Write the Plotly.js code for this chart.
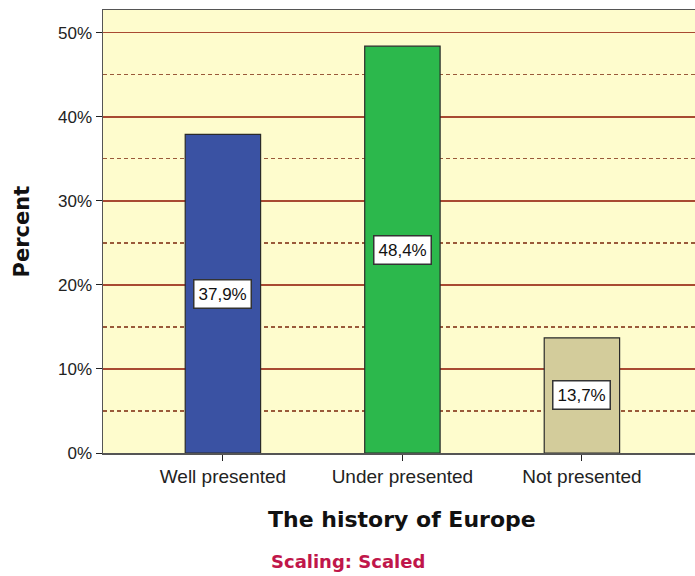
<!DOCTYPE html>
<html><head><meta charset="utf-8">
<script src="https://cdn.plot.ly/plotly-3.0.1.min.js"></script>
<style>html,body{margin:0;padding:0;background:#fff}</style>
</head><body><div id="chart" style="width:695px;height:576px"></div>
<script>
const categories = ["Well presented", "Under presented", "Not presented"];
const percents = [37.9, 48.4, 13.7];
const labels = ["37,9%", "48,4%", "13,7%"];
const barColors = ["#3a52a3", "#2cb84c", "#d3cc9b"];
const yTicks = [0, 10, 20, 30, 40, 50];

const trace = {
  type: "bar",
  x: categories.map((c, i) => i),
  y: percents,
  width: 0.42,
  marker: {color: barColors, line: {color: "#2a2a2a", width: 1.2}},
  hoverinfo: "skip"
};

const annotations = percents.map((v, i) => ({
  x: i, y: v / 2, xref: "x", yref: "y",
  text: labels[i], showarrow: false,
  bgcolor: "#ffffff", bordercolor: "#333333", borderwidth: 1.5, borderpad: 4,
  font: {family: "Liberation Sans, Arial, sans-serif", size: 17, color: "#111"}
}));
annotations.push({
  xref: "paper", yref: "paper", x: 0.505, y: -0.151, xanchor: "center", yanchor: "middle",
  text: "<b>The history of Europe</b>", showarrow: false,
  font: {family: "DejaVu Sans, sans-serif", size: 22, color: "#111"}
});
annotations.push({
  xref: "paper", yref: "paper", x: 0.414, y: -0.246, xanchor: "center", yanchor: "middle",
  text: "<b>Scaling: Scaled</b>", showarrow: false,
  font: {family: "DejaVu Sans, sans-serif", size: 18, color: "#c0164a"}
});
annotations.push({
  xref: "paper", yref: "paper", x: -0.137, y: 0.5, xanchor: "center", yanchor: "middle",
  text: "<b>Percent</b>", showarrow: false, textangle: -90,
  font: {family: "DejaVu Sans, sans-serif", size: 21, color: "#111"}
});

const layout = {
  width: 695, height: 576,
  margin: {l: 103, r: 0, t: 10, b: 123},
  paper_bgcolor: "#ffffff",
  plot_bgcolor: "#fefccd",
  showlegend: false,
  font: {family: "Liberation Sans, Arial, sans-serif", size: 17, color: "#333"},
  xaxis: {
    range: [-0.668, 2.63],
    tickvals: [0, 1, 2], ticktext: categories,
    ticks: "outside", ticklen: 6, tickcolor: "#222",
    showgrid: false, zeroline: false,
    showline: true, linecolor: "#555", linewidth: 1.5, mirror: true,
    tickfont: {size: 19, color: "#222"}
  },
  yaxis: {
    range: [0, 52.7],
    tickvals: yTicks, ticktext: yTicks.map(t => t + "%"),
    ticks: "outside", ticklen: 6, tickcolor: "#222",
    showgrid: true, gridcolor: "#a84a32", gridwidth: 1.5,
    zeroline: false,
    showline: true, linecolor: "#555", linewidth: 1.5, mirror: true,
    tickfont: {size: 17, color: "#222"},
    minor: {dtick: 5, tick0: 0, showgrid: true, griddash: "4px,3px", gridcolor: "#9a5a3a", gridwidth: 1.3, ticks: ""}
  },
  annotations: annotations
};

Plotly.newPlot("chart", [trace], layout, {displayModeBar: false, staticPlot: true});
</script>
</body></html>
